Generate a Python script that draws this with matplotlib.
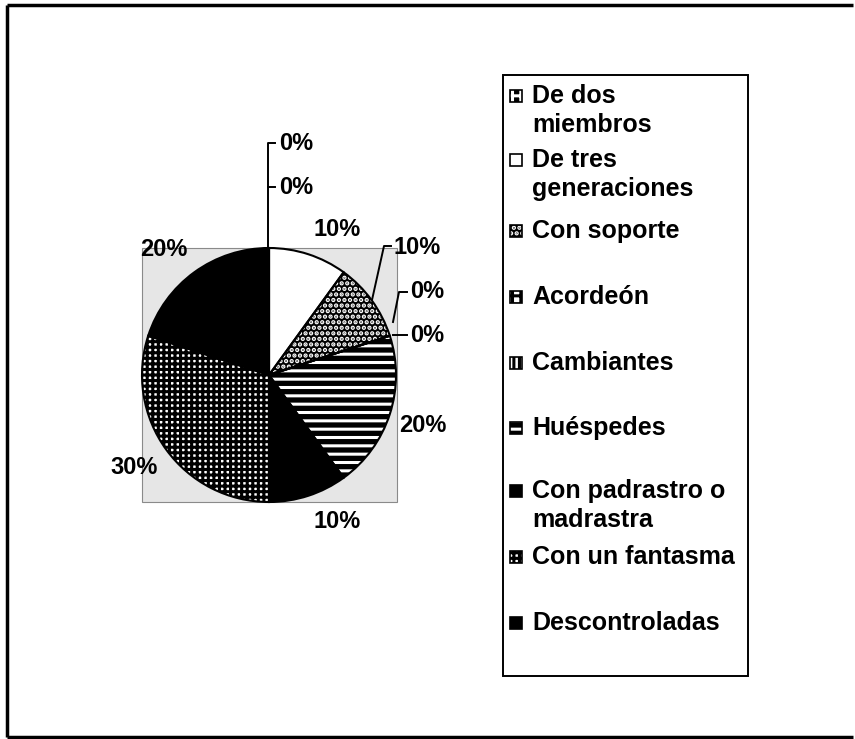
import matplotlib
matplotlib.use("Agg")
import matplotlib.pyplot as plt
from matplotlib.patches import Rectangle

# Family types and their share (%), clockwise from 12 o'clock.
# The last entry is an unnamed 0% row that only shows up as a label.
categories = ["De dos\nmiembros", "De tres\ngeneraciones", "Con soporte", "Acordeón",
              "Cambiantes", "Huéspedes", "Con padrastro o\nmadrastra",
              "Con un fantasma", "Descontroladas", ""]
percentages = [0, 10, 10, 0, 0, 20, 10, 30, 20, 0]

# Fill styles: (face colour, hatch colour, hatch pattern)
styles = [
    ("black", "white", "++"),
    ("white", "black", ""),
    ("black", "white", "..."),
    ("white", "black", "++"),
    ("white", "black", "|||"),
    ("black", "white", "--"),
    ("black", "black", ""),
    ("white", "black", "+++"),
    ("black", "black", ""),
    ("white", "black", ""),
]

W, H = 855, 739
plt.rcParams["hatch.linewidth"] = 2.2
plt.rcParams["font.family"] = ["Liberation Sans", "DejaVu Sans"]

fig = plt.figure(figsize=(W / 100, H / 100), dpi=100)

# Background layer in pixel coordinates
bg = fig.add_axes([0, 0, 1, 1], zorder=0)
bg.set_xlim(0, W)
bg.set_ylim(H, 0)
bg.axis("off")

# Outer frame
bg.plot([7, 7], [5, 737], color="black", lw=2.5, solid_capstyle="butt")
bg.plot([7, 853], [5, 5], color="black", lw=2.5, solid_capstyle="butt")
bg.plot([7, 853], [737, 737], color="black", lw=2.5, solid_capstyle="butt")

# Plot area behind the pie
bg.add_patch(Rectangle((142, 248), 255, 254, facecolor="#e6e6e6",
                       edgecolor="#8a8a8a", lw=0.8))

# Pie
cx, cy, r = 269, 375, 127
axp = fig.add_axes([(cx - r) / W, 1 - (cy + r) / H, 2 * r / W, 2 * r / H], zorder=1)
wedges, _ = axp.pie(percentages, startangle=90, counterclock=False, radius=1)
for w, (fc, hc, h) in zip(wedges, styles):
    w.set_facecolor(fc)
    w.set_edgecolor(hc)
    w.set_hatch(h)
    w.set_linewidth(0)
axp.pie(percentages, startangle=90, counterclock=False, radius=1,
        wedgeprops=dict(fill=False, edgecolor="black", linewidth=1.5))
axp.set_xlim(-1, 1)
axp.set_ylim(-1, 1)
axp.set_aspect("auto")
axp.axis("off")

# Top layer for labels and legend
top = fig.add_axes([0, 0, 1, 1], zorder=2)
top.set_xlim(0, W)
top.set_ylim(H, 0)
top.axis("off")
top.patch.set_alpha(0)

lab_fs = 17
lab_kw = dict(fontsize=lab_fs, fontweight="bold", color="black", va="center")

# Data labels: (text x, text y, horizontal alignment, leader line points)
label_layout = [
    (279, 187, "left", [(268, 187), (275, 187)]),
    (337, 230, "center", None),
    (393, 247, "left", [(372, 300), (384, 246), (391, 246)]),
    (410, 292, "left", [(393, 322), (399, 292), (407, 292)]),
    (410, 335, "left", [(393, 335), (407, 335)]),
    (399, 425, "left", None),
    (337, 522, "center", None),
    (158, 467, "right", None),
    (140, 249, "left", None),
    (279, 143, "left", [(268, 248), (268, 143), (275, 143)]),
]
for pct, (tx, ty, ha, leader) in zip(percentages, label_layout):
    if leader:
        xs, ys = zip(*leader)
        top.plot(xs, ys, color="black", lw=1.4)
    top.text(tx, ty, f"{pct}%", ha=ha, **lab_kw)

# Legend box
top.add_patch(Rectangle((503, 75), 245, 601, facecolor="none",
                        edgecolor="black", lw=1.4))
leg_y = [96, 160, 231, 297, 363, 428, 491, 557, 623]
leg_fs = 18
for name, (fc, hc, h), y in zip(categories, styles, leg_y):
    top.add_patch(Rectangle((510, y - 6), 12, 12, facecolor=fc, edgecolor=hc,
                            hatch=h, lw=0))
    top.add_patch(Rectangle((510, y - 6), 12, 12, facecolor="none",
                            edgecolor="black", lw=1.2))
    for i, line in enumerate(name.split("\n")):
        top.text(532, y + i * 29, line, fontsize=leg_fs, fontweight="bold",
                 ha="left", va="center")

fig.savefig("out.png", dpi=100)
